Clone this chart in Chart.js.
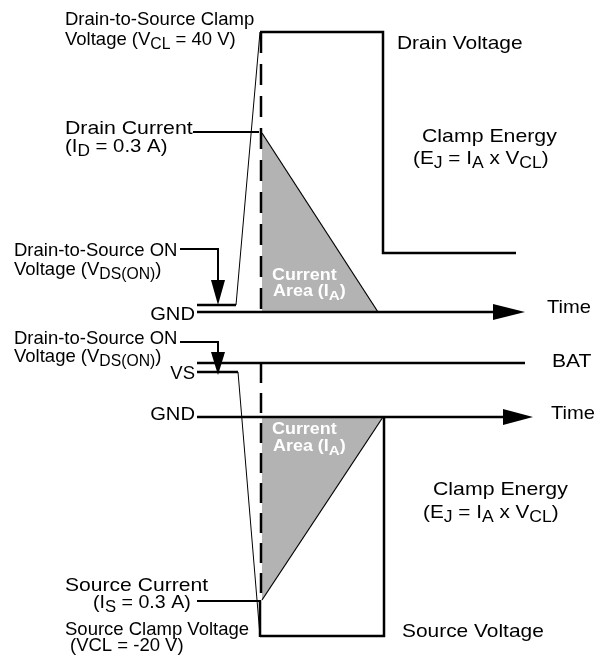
<!DOCTYPE html>
<html><head><meta charset="utf-8">
<script src="https://cdn.jsdelivr.net/npm/chart.js@4"></script>
<style>html,body{margin:0;padding:0;background:#fff;overflow:hidden}</style>
</head><body>
<canvas id="c" width="602" height="656"></canvas>
<script>
// Diagram values: x = time position, y = level position (figure units)
const drainVoltageT = [197, 236, 260, 383, 383, 516];
const drainVoltageY = [305, 305, 32, 32, 253, 253];
const drainCurrentT = [262, 378, 262, 262];
const drainCurrentY = [133, 312, 312, 133];
const sourceVoltageT = [197, 238, 260, 384, 384];
const sourceVoltageY = [372, 372, 636, 636, 417];
const sourceCurrentT = [262, 383, 262, 262];
const sourceCurrentY = [600, 417, 417, 600];
const topTimeAxisT = [197, 497];
const topTimeAxisY = [312, 312];
const botTimeAxisT = [197, 507];
const botTimeAxisY = [417, 417];
const batT = [197, 525];
const batY = [363, 363];
const clampStartT = [261, 261];
const topDashY = [32, 312];
const botDashY = [363, 600];
const clampEdgeT = [260, 260];
const clampEdgeY = [600, 637];
const topArrowT = [493, 525, 493, 493];
const topArrowY = [304, 312, 320, 304];
const botArrowT = [503, 533, 503, 503];
const botArrowY = [409, 417, 425, 409];
const drainCurrentLeaderT = [193, 259];
const drainCurrentLeaderY = [132, 132];
const sourceCurrentLeaderT = [197, 260];
const sourceCurrentLeaderY = [601, 601];
const dsOnTopLeaderT = [180, 218, 218];
const dsOnTopLeaderY = [249, 249, 282];
const dsOnTopHeadT = [211, 218, 225, 211];
const dsOnTopHeadY = [280, 305, 280, 280];
const dsOnBotLeaderT = [180, 218, 218];
const dsOnBotLeaderY = [342, 342, 354];
const dsOnBotHeadT = [211, 218, 225, 211];
const dsOnBotHeadY = [352, 375, 352, 352];

// text labels: parts [text, subscript?], anchor x, baseline y, size, horizontal stretch, align, weight, color
const labels = [
  {p:[["Drain-to-Source Clamp"]], x:65, y:25, s:18.5, k:1},
  {p:[["Voltage (V"],["CL",1],[" = 40 V)"]], x:65, y:45, s:18.5, k:1},
  {p:[["Drain Current"]], x:65, y:134, s:18.5, k:1.15},
  {p:[["(I"],["D",1],[" = 0.3 A)"]], x:65, y:152, s:18.5, k:1.1},
  {p:[["Drain Voltage"]], x:397, y:49, s:18.5, k:1.13},
  {p:[["Clamp Energy"]], x:422, y:142, s:18.5, k:1.15},
  {p:[["(E"],["J",1],[" = I"],["A",1],[" x V"],["CL",1],[")"]], x:413, y:164, s:18.5, k:1.12},
  {p:[["Drain-to-Source ON"]], x:14, y:256, s:18.5, k:1},
  {p:[["Voltage (V"],["DS(ON)",1],[")"]], x:14, y:275, s:18.5, k:1},
  {p:[["GND"]], x:195, y:320, s:18.5, k:1.09, a:"right"},
  {p:[["Time"]], x:547, y:313, s:18.5, k:1.09},
  {p:[["Drain-to-Source ON"]], x:14, y:344, s:18.5, k:1},
  {p:[["Voltage (V"],["DS(ON)",1],[")"]], x:14, y:362, s:18.5, k:1},
  {p:[["VS"]], x:195, y:379, s:18.5, k:1, a:"right"},
  {p:[["BAT"]], x:552, y:367, s:18.5, k:1.14},
  {p:[["GND"]], x:195, y:420, s:18.5, k:1.09, a:"right"},
  {p:[["Time"]], x:551, y:419, s:18.5, k:1.09},
  {p:[["Clamp Energy"]], x:433, y:495, s:18.5, k:1.15},
  {p:[["(E"],["J",1],[" = I"],["A",1],[" x V"],["CL",1],[")"]], x:423, y:518, s:18.5, k:1.12},
  {p:[["Source Current"]], x:65, y:591, s:18.5, k:1.14},
  {p:[["(I"],["S",1],[" = 0.3 A)"]], x:93, y:608, s:18.5, k:1.06},
  {p:[["Source Clamp Voltage"]], x:65, y:635, s:18.5, k:1},
  {p:[["(VCL = -20 V)"]], x:70, y:651, s:18.5, k:1},
  {p:[["Source Voltage"]], x:402, y:637, s:18.5, k:1.13},
  {p:[["Current"]], x:272, y:280, s:16, k:1.12, w:"bold", c:"#ffffff"},
  {p:[["Area (I"],["A",1],[")"]], x:273, y:296, s:16, k:1.12, w:"bold", c:"#ffffff"},
  {p:[["Current"]], x:272, y:434, s:16, k:1.12, w:"bold", c:"#ffffff"},
  {p:[["Area (I"],["A",1],[")"]], x:273, y:451, s:16, k:1.12, w:"bold", c:"#ffffff"}
];

const pts = (t, y) => t.map((v, i) => ({x: v, y: y[i]}));
const INK = "#000000";
const GREY = "#b3b3b3";
const FONT = "'Liberation Sans', Arial, Helvetica, sans-serif";

function line(t, y, w, extra) {
  return Object.assign({data: pts(t, y), showLine: true, borderColor: INK, borderWidth: w,
    pointRadius: 0, fill: false, tension: 0, borderCapStyle: "butt", borderJoinStyle: "miter", order: 1}, extra || {});
}
function solid(t, y, color, extra) {
  return Object.assign({data: pts(t, y), showLine: true, borderColor: "transparent", borderWidth: 1,
    backgroundColor: color, pointRadius: 0, fill: "shape", tension: 0, order: 1}, extra || {});
}

const datasets = [
  Object.assign(solid(drainCurrentT, drainCurrentY, GREY, {order: 5}), {
    borderWidth: 1.2, segment: {borderColor: c => c.p0DataIndex === 0 ? INK : "transparent"}}),
  Object.assign(solid(sourceCurrentT, sourceCurrentY, GREY, {order: 5}), {
    borderWidth: 1.2, segment: {borderColor: c => c.p0DataIndex === 0 ? INK : "transparent"}}),
  line(drainVoltageT, drainVoltageY, 2.5, {segment: {borderWidth: c => c.p0DataIndex === 1 ? 1 : 2.5}}),
  line(sourceVoltageT, sourceVoltageY, 2.5, {segment: {borderWidth: c => c.p0DataIndex === 1 ? 1 : 2.5}}),
  line(topTimeAxisT, topTimeAxisY, 2.5),
  line(botTimeAxisT, botTimeAxisY, 2.5),
  line(batT, batY, 2.5),
  line(clampStartT, topDashY, 2.5, {borderDash: [21, 11]}),
  line(clampStartT, botDashY, 2.5, {borderDash: [20, 10]}),
  line(clampEdgeT, clampEdgeY, 2.5),
  solid(topArrowT, topArrowY, INK),
  solid(botArrowT, botArrowY, INK),
  line(drainCurrentLeaderT, drainCurrentLeaderY, 2),
  line(sourceCurrentLeaderT, sourceCurrentLeaderY, 2),
  line(dsOnTopLeaderT, dsOnTopLeaderY, 2),
  solid(dsOnTopHeadT, dsOnTopHeadY, INK),
  line(dsOnBotLeaderT, dsOnBotLeaderY, 2),
  solid(dsOnBotHeadT, dsOnBotHeadY, INK)
];

const textPlugin = {
  id: "diagramText",
  afterDatasetsDraw(chart) {
    const ctx = chart.ctx, xs = chart.scales.x, ys = chart.scales.y;
    ctx.save();
    ctx.textBaseline = "alphabetic";
    labels.forEach(L => {
      const w = L.w || "normal", col = L.c || "#000000";
      const fMain = w + " " + L.s + "px " + FONT;
      const fSub = w + " " + (L.s * 0.85) + "px " + FONT;
      let total = 0;
      L.p.forEach(pr => { ctx.font = pr[1] ? fSub : fMain; total += ctx.measureText(pr[0]).width; });
      total *= L.k;
      let px = xs.getPixelForValue(L.x);
      const py = ys.getPixelForValue(L.y);
      if (L.a === "right") px -= total;
      ctx.save();
      ctx.translate(px, py);
      ctx.scale(L.k, 1);
      ctx.fillStyle = col;
      ctx.textAlign = "left";
      let cx = 0;
      L.p.forEach(pr => {
        ctx.font = pr[1] ? fSub : fMain;
        ctx.fillText(pr[0], cx, pr[1] ? 4 : 0);
        cx += ctx.measureText(pr[0]).width;
      });
      ctx.restore();
    });
    ctx.restore();
  }
};

new Chart(document.getElementById("c"), {
  type: "scatter",
  data: {datasets},
  options: {
    responsive: false,
    animation: false,
    layout: {padding: 0},
    plugins: {legend: {display: false}, tooltip: {enabled: false}},
    scales: {
      x: {type: "linear", min: 0, max: 602, display: false},
      y: {type: "linear", min: 0, max: 656, reverse: true, display: false}
    }
  },
  plugins: [textPlugin]
});
</script>
</body></html>
